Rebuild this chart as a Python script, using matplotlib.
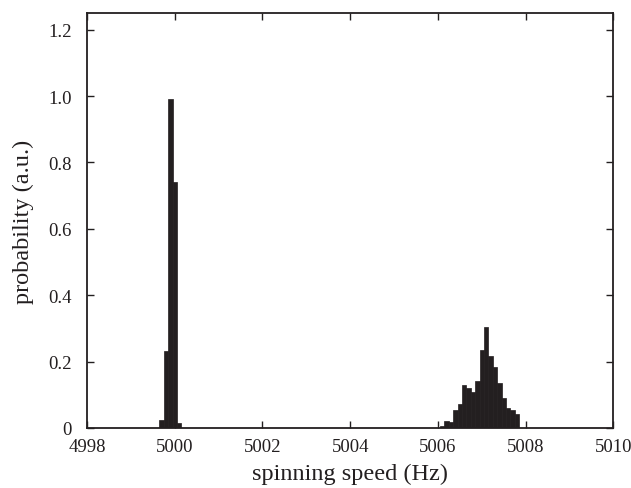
import matplotlib
matplotlib.use("Agg")
import matplotlib.pyplot as plt
from matplotlib.ticker import FuncFormatter

# Data (bin width 0.1 Hz)
peak1_centers = [4999.7, 4999.8, 4999.9, 5000.0, 5000.1]
peak1_values = [0.025, 0.232, 0.99, 0.74, 0.016]

peak2_centers = [5006.1, 5006.2, 5006.3, 5006.4, 5006.5, 5006.6, 5006.7, 5006.8,
                 5006.9, 5007.0, 5007.1, 5007.2, 5007.3, 5007.4, 5007.5, 5007.6,
                 5007.7, 5007.8]
peak2_values = [0.007, 0.022, 0.017, 0.053, 0.073, 0.128, 0.121, 0.108,
                0.141, 0.235, 0.305, 0.218, 0.182, 0.136, 0.091, 0.06,
                0.055, 0.042]

bin_width = 0.1
xticks = [4998, 5000, 5002, 5004, 5006, 5008, 5010]
yticks = [0, 0.2, 0.4, 0.6, 0.8, 1.0, 1.2]

plt.rcParams['font.family'] = ['Liberation Serif', 'DejaVu Serif']

fig = plt.figure(figsize=(6.31, 4.89), dpi=100)
ax = fig.add_axes([0.138, 0.123, 0.834, 0.848])

col = '#231f20'
ax.bar(peak1_centers, peak1_values, width=bin_width, color=col, edgecolor=col, linewidth=0.5)
ax.bar(peak2_centers, peak2_values, width=bin_width, color=col, edgecolor=col, linewidth=0.5)

ax.set_xlim(4998, 5010)
ax.set_ylim(0, 1.25)
ax.set_xticks(xticks)
ax.set_yticks(yticks)
ax.yaxis.set_major_formatter(FuncFormatter(lambda v, p: '0' if abs(v) < 1e-9 else f'{v:.1f}'))
ax.tick_params(direction='in', top=True, right=True, length=5, width=1,
               labelsize=13.5, colors='#231f20')
ax.tick_params(axis='x', pad=7)
ax.tick_params(axis='y', pad=11)
for s in ax.spines.values():
    s.set_linewidth(1.3)
    s.set_color('#231f20')

ax.set_xlabel('spinning speed (Hz)', fontsize=17.5, color='#231f20', labelpad=6)
ax.set_ylabel('probability (a.u.)', fontsize=17.5, color='#231f20', labelpad=10)

fig.savefig('out.png', dpi=100)
